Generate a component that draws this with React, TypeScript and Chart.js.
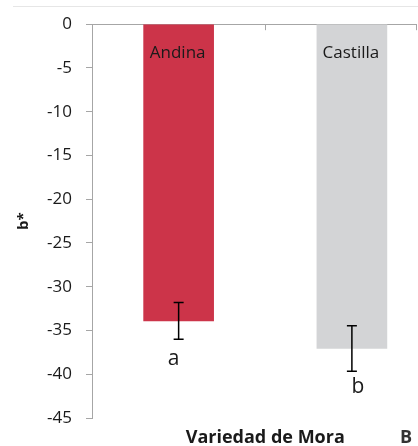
import React, { useEffect, useRef } from 'react';
import { Chart, registerables } from 'chart.js';

Chart.register(...registerables);

const categories = ['Andina', 'Castilla'];
const meanValues = [-33.9, -37.05];
const sdValues = [2.1, 2.6];
const sigLetters = ['a', 'b'];
const yTicks = [0, -5, -10, -15, -20, -25, -30, -35, -40, -45];
const barColors = ['#cc3449', '#d3d4d6'];
const xAxisTitle = 'Variedad de Mora';
const yAxisTitle = 'b*';
const panelLetter = 'B';

const FONT = '"Open Sans", "Liberation Sans", sans-serif';
const AXIS_GRAY = '#a6a6a6';
const TEXT = '#1a1a1a';

const X_MIN = -0.5;
const X_MAX = 1.37;

const annotatePlugin = {
  id: 'annotate',
  beforeDraw(chart: any) {
    const { ctx } = chart;
    ctx.save();
    ctx.strokeStyle = '#e6e6e6';
    ctx.lineWidth = 1;
    ctx.beginPath();
    ctx.moveTo(13, 6.5);
    ctx.lineTo(chart.width, 6.5);
    ctx.stroke();
    ctx.restore();
  },
  afterDatasetsDraw(chart: any, _args: any, opts: any) {
    const { ctx, chartArea } = chart;
    const x = chart.scales.x;
    const y = chart.scales.y;
    ctx.save();
    categories.forEach((cat, i) => {
      const px = x.getPixelForValue(i);
      ctx.fillStyle = TEXT;
      ctx.font = `17px ${FONT}`;
      ctx.textAlign = 'center';
      ctx.textBaseline = 'alphabetic';
      ctx.fillText(cat, px - 1, y.getPixelForValue(0) + 34);

      const yTop = y.getPixelForValue(meanValues[i] + sdValues[i]);
      const yBot = y.getPixelForValue(meanValues[i] - sdValues[i]);
      ctx.strokeStyle = '#000';
      ctx.lineWidth = 1.5;
      ctx.beginPath();
      ctx.moveTo(px, yTop);
      ctx.lineTo(px, yBot);
      ctx.moveTo(px - 5, yTop);
      ctx.lineTo(px + 5, yTop);
      ctx.moveTo(px - 5, yBot);
      ctx.lineTo(px + 5, yBot);
      ctx.stroke();

      ctx.font = `21px ${FONT}`;
      ctx.fillStyle = TEXT;
      ctx.fillText(sigLetters[i], px + opts.letterDx[i], yBot + opts.letterDy[i]);
    });

    ctx.font = `bold 18px ${FONT}`;
    ctx.fillStyle = TEXT;
    ctx.textAlign = 'center';
    ctx.fillText(xAxisTitle, x.getPixelForValue(0.5), chartArea.bottom + 25);
    ctx.fillStyle = '#333';
    ctx.textAlign = 'right';
    ctx.fillText(panelLetter, chart.width - 6, chartArea.bottom + 25);
    ctx.restore();
  },
};

export default function App() {
  const canvasRef = useRef<HTMLCanvasElement | null>(null);

  useEffect(() => {
    if (!canvasRef.current) return;
    const chart = new Chart(canvasRef.current, {
      type: 'bar',
      data: {
        datasets: [
          {
            data: categories.map((_, i) => ({ x: i, y: meanValues[i] })),
            backgroundColor: barColors,
            borderWidth: 0,
            barThickness: 70,
          },
        ],
      },
      options: {
        animation: false,
        responsive: false,
        devicePixelRatio: 1,
        layout: { padding: { top: 23, left: 0, right: 2, bottom: 28 } },
        plugins: {
          legend: { display: false },
          tooltip: { enabled: false },
          title: { display: false },
          annotate: { letterDx: [-5, 6], letterDy: [26, 22] },
        } as any,
        scales: {
          x: {
            type: 'linear',
            position: 'top',
            offset: false,
            min: X_MIN,
            max: X_MAX,
            afterBuildTicks: (s: any) => {
              s.ticks = [{ value: X_MIN }, { value: 0.5 }, { value: X_MAX }];
            },
            ticks: { display: false },
            grid: {
              offset: false,
              drawOnChartArea: false,
              drawTicks: true,
              tickLength: -6,
              color: AXIS_GRAY,
              lineWidth: 1,
            },
            border: { display: true, color: AXIS_GRAY, width: 1 },
            afterFit: (s: any) => {
              s.height = 0;
            },
          },
          y: {
            type: 'linear',
            min: -45,
            max: 0,
            afterBuildTicks: (s: any) => {
              s.ticks = yTicks.map((v) => ({ value: v }));
            },
            ticks: {
              font: { family: FONT, size: 17 },
              color: TEXT,
              padding: 14,
              callback: (v: any) => String(v),
            },
            grid: {
              drawOnChartArea: false,
              drawTicks: true,
              tickLength: 6,
              color: AXIS_GRAY,
            },
            border: { display: true, color: AXIS_GRAY, width: 1 },
            title: {
              display: true,
              text: yAxisTitle,
              font: { family: FONT, size: 15, weight: 'bold' },
              color: TEXT,
              padding: { top: 15, bottom: 0 },
            },
            afterFit: (s: any) => {
              s.width = 92;
            },
          },
        },
      } as any,
      plugins: [annotatePlugin],
    });
    return () => chart.destroy();
  }, []);

  return (
    <div style={{ position: 'absolute', left: 0, top: 0, width: 418, height: 446, overflow: 'hidden', background: '#fff' }}>
      <canvas ref={canvasRef} width={418} height={446} style={{ width: 418, height: 446, display: 'block' }} />
    </div>
  );
}
